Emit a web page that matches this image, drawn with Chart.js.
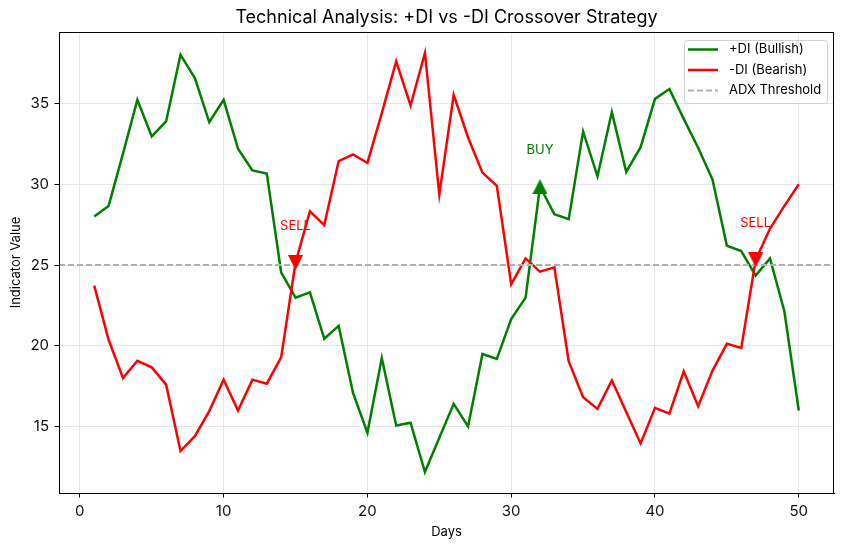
<!DOCTYPE html>
<html>
<head>
<meta charset="utf-8">
<script src="https://cdn.jsdelivr.net/npm/chart.js@4.4.1/dist/chart.umd.min.js"></script>
<style>
    html, body { margin: 0; padding: 0; background: #fff; }
    #wrap { width: 844px; height: 549px; }
</style>
</head>
<body>
<div id="wrap"><canvas id="diChart" width="844" height="549"></canvas></div>
<script>
// ---- data ----
const days = [1, 2, 3, 4, 5, 6, 7, 8, 9, 10, 11, 12, 13, 14, 15, 16, 17, 18, 19, 20,
    21, 22, 23, 24, 25, 26, 27, 28, 29, 30, 31, 32, 33, 34, 35, 36, 37, 38, 39, 40,
    41, 42, 43, 44, 45, 46, 47, 48, 49, 50];
const plusDI = [28.0, 28.66, 31.9, 35.23, 32.96, 33.89, 38.02, 36.58, 33.85, 35.23,
    32.2, 30.86, 30.66, 24.55, 22.98, 23.31, 20.43, 21.23, 17.08, 14.61,
    19.24, 15.06, 15.23, 12.18, 14.3, 16.4, 15.0, 19.49, 19.18, 21.65,
    22.98, 29.86, 28.15, 27.84, 33.27, 30.49, 34.47, 30.76, 32.3, 35.29,
    35.9, 34.05, 32.26, 30.29, 26.19, 25.86, 24.34, 25.41, 22.12, 15.99];
const minusDI = [23.72, 20.37, 18.0, 19.07, 18.66, 17.59, 13.48, 14.4, 15.95, 17.9,
    15.99, 17.9, 17.65, 19.28, 25.15, 28.33, 27.47, 31.44, 31.85, 31.32,
    34.4, 37.61, 34.88, 38.13, 29.36, 35.54, 32.9, 30.72, 29.9, 23.81,
    25.41, 24.59, 24.86, 19.03, 16.81, 16.09, 17.86, 15.9, 13.95, 16.15,
    15.8, 18.42, 16.26, 18.46, 20.12, 19.86, 25.31, 27.26, 28.66, 30.0];
const threshold = 25;
const signalDays = [15, 32, 47];
const signalValues = [25.15, 29.86, 25.31];
const signalLabels = ['SELL', 'BUY', 'SELL'];
const xTicks = [0, 10, 20, 30, 40, 50];
const yTicks = [15, 20, 25, 30, 35];

const X_MIN = -1.45, X_MAX = 52.45;
const Y_MIN = 10.88, Y_MAX = 39.43;
const FONT = 'Inter, "Noto Sans", sans-serif';
const GREEN = '#008000', RED = '#ff0000', GREY = '#b0b0b0';

// matplotlib-like triangle markers as tiny canvases
function triangleMarker(color, up) {
    const c = document.createElement('canvas');
    c.width = 15; c.height = 15;
    const g = c.getContext('2d');
    g.fillStyle = color;
    g.beginPath();
    if (up) { g.moveTo(7.5, 0); g.lineTo(15, 15); g.lineTo(0, 15); }
    else { g.moveTo(0, 0); g.lineTo(15, 0); g.lineTo(7.5, 15); }
    g.closePath();
    g.fill();
    return c;
}
const buyMarker = triangleMarker(GREEN, true);
const sellMarker = triangleMarker(RED, false);

const buyPoints = [], sellPoints = [];
signalDays.forEach((d, i) => {
    const p = { x: d, y: signalValues[i] };
    if (signalLabels[i] === 'BUY') buyPoints.push(p); else sellPoints.push(p);
});

// ---- plugins ----
const framePlugin = {
    id: 'frame',
    afterDatasetsDraw(chart) {
        const { ctx, scales } = chart;
        // signal labels
        ctx.save();
        ctx.font = '13px ' + FONT;
        ctx.textAlign = 'center';
        ctx.textBaseline = 'bottom';
        signalDays.forEach((d, i) => {
            ctx.fillStyle = signalLabels[i] === 'BUY' ? GREEN : RED;
            ctx.fillText(signalLabels[i], scales.x.getPixelForValue(d), scales.y.getPixelForValue(signalValues[i] + 2) + 2);
        });
        ctx.restore();
    },
    afterDraw(chart) {
        const { ctx, chartArea: a } = chart;
        ctx.save();
        // spines
        ctx.strokeStyle = '#000';
        ctx.lineWidth = 1;
        ctx.strokeRect(Math.round(a.left) + 0.5, Math.round(a.top) + 0.5, Math.round(a.right - a.left) - 1, Math.round(a.bottom - a.top));
        // title
        ctx.fillStyle = '#000';
        ctx.font = '18px ' + FONT;
        ctx.textAlign = 'center';
        ctx.textBaseline = 'middle';
        ctx.fillText('Technical Analysis: +DI vs -DI Crossover Strategy', (a.left + a.right) / 2, 18);

        // legend
        const bx = 684, by = 40, bw = 143, bh = 63;
        ctx.beginPath();
        ctx.roundRect(bx + 0.5, by + 0.5, bw, bh, 3);
        ctx.fillStyle = 'rgba(255,255,255,0.8)';
        ctx.fill();
        ctx.strokeStyle = '#d0d0d0';
        ctx.stroke();
        const items = chart.data.datasets.filter(ds => ds.inLegend);
        items.forEach((ds, i) => {
            const y = 49.5 + i * 20.5;
            ctx.beginPath();
            ctx.setLineDash(ds.borderDash || []);
            ctx.strokeStyle = ds.borderColor;
            ctx.lineWidth = ds.borderWidth;
            ctx.moveTo(688, y);
            ctx.lineTo(718, y);
            ctx.stroke();
            ctx.setLineDash([]);
            ctx.fillStyle = '#000';
            ctx.font = '13px ' + FONT;
            ctx.textAlign = 'left';
            ctx.textBaseline = 'middle';
            ctx.fillText(ds.label, 729, y);
        });
        ctx.restore();
    }
};

// ---- chart ----
const ctx = document.getElementById('diChart').getContext('2d');
new Chart(ctx, {
    type: 'line',
    data: {
        datasets: [
            {
                label: '+DI (Bullish)', inLegend: true, order: 3,
                data: days.map((d, i) => ({ x: d, y: plusDI[i] })),
                borderColor: GREEN, borderWidth: 2.5, pointRadius: 0, tension: 0
            },
            {
                label: '-DI (Bearish)', inLegend: true, order: 2,
                data: days.map((d, i) => ({ x: d, y: minusDI[i] })),
                borderColor: RED, borderWidth: 2.5, pointRadius: 0, tension: 0
            },
            {
                label: 'ADX Threshold', inLegend: true, order: 1,
                data: [{ x: X_MIN, y: threshold }, { x: X_MAX, y: threshold }],
                borderColor: GREY, borderWidth: 1.8, borderDash: [6, 3], pointRadius: 0
            },
            {
                label: 'Buy', order: 0, type: 'scatter',
                data: buyPoints, pointStyle: buyMarker, pointRadius: 8, showLine: false
            },
            {
                label: 'Sell', order: 0, type: 'scatter',
                data: sellPoints, pointStyle: sellMarker, pointRadius: 8, showLine: false
            }
        ]
    },
    options: {
        responsive: false,
        animation: false,
        layout: { padding: { top: 32, right: 10, left: 0, bottom: 0 } },
        plugins: {
            legend: { display: false },
            tooltip: { enabled: false },
            title: { display: false }
        },
        scales: {
            x: {
                type: 'linear', min: X_MIN, max: X_MAX,
                afterBuildTicks: s => { s.ticks = xTicks.map(v => ({ value: v })); },
                afterFit: s => { s.height = 56; },
                grid: { color: '#e6e6e6', lineWidth: 1, tickColor: '#000', tickLength: 4.5, tickWidth: 1 },
                border: { color: '#000', width: 1 },
                ticks: { color: '#111', font: { family: FONT, size: 15 }, padding: 4.5, maxRotation: 0 },
                title: { display: true, text: 'Days', color: '#000', font: { family: FONT, size: 13 }, padding: { top: 0, bottom: 9 } }
            },
            y: {
                min: Y_MIN, max: Y_MAX,
                afterBuildTicks: s => { s.ticks = yTicks.map(v => ({ value: v })); },
                afterFit: s => { s.width = 59; },
                grid: { color: '#e6e6e6', lineWidth: 1, tickColor: '#000', tickLength: 4.5, tickWidth: 1 },
                border: { color: '#000', width: 1 },
                ticks: { color: '#111', font: { family: FONT, size: 15 }, padding: 5.5 },
                title: { display: true, text: 'Indicator Value', color: '#000', font: { family: FONT, size: 13 }, padding: { top: 8, bottom: 0 } }
            }
        }
    },
    plugins: [framePlugin]
});
</script>
</body>
</html>
